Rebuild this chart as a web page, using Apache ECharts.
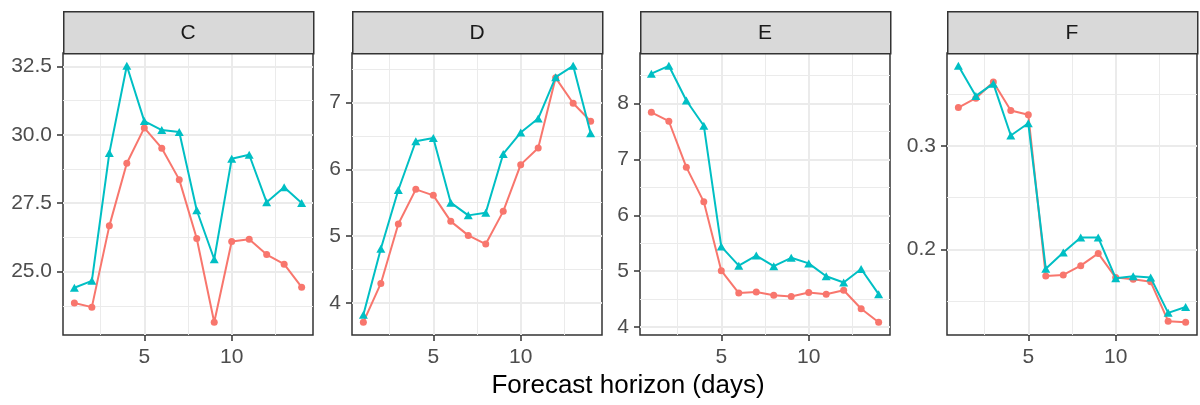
<!DOCTYPE html>
<html>
<head>
<meta charset="utf-8">
<script src="https://cdn.jsdelivr.net/npm/echarts@6/dist/echarts.min.js"></script>
<style>
html,body{margin:0;padding:0;background:#fff;}
#chart{width:1200px;height:405px;}
</style>
</head>
<body>
<div id="chart"></div>
<script>
// ---- data ----
const horizon = [1,2,3,4,5,6,7,8,9,10,11,12,13,14];
const panelNames = ['C','D','E','F'];

const redC  = [23.85,23.70,26.67,28.96,30.25,29.51,28.36,26.21,23.15,26.10,26.18,25.62,25.27,24.43];
const blueC = [24.41,24.66,29.33,32.52,30.50,30.17,30.10,27.24,25.45,29.12,29.27,27.53,28.08,27.51];
const redD  = [3.71,4.29,5.18,5.70,5.61,5.22,5.01,4.88,5.37,6.07,6.32,7.37,6.99,6.72];
const blueD = [3.82,4.81,5.69,6.42,6.47,5.50,5.31,5.35,6.23,6.55,6.76,7.38,7.55,6.54];
const redE  = [7.84,7.68,6.86,6.24,5.01,4.61,4.63,4.57,4.55,4.62,4.59,4.66,4.33,4.09];
const blueE = [8.53,8.67,8.05,7.60,5.44,5.10,5.28,5.09,5.24,5.14,4.91,4.80,5.04,4.59];
const redF  = [0.3369,0.3459,0.3615,0.3341,0.3299,0.1745,0.1755,0.1844,0.1962,0.1729,0.1713,0.1688,0.1309,0.1299];
const blueF = [0.3771,0.3481,0.3599,0.3099,0.3217,0.1815,0.1971,0.2115,0.2115,0.1723,0.1742,0.1729,0.1389,0.1446];

const xTicks = [5, 10];
const xMinor = [2.5, 7.5, 12.5];
const yTicksC = [25, 27.5, 30, 32.5];   const yMinorC = [23.75, 26.25, 28.75, 31.25];
const yTicksD = [4, 5, 6, 7];            const yMinorD = [4.5, 5.5, 6.5, 7.5];
const yTicksE = [4, 5, 6, 7, 8];         const yMinorE = [4.5, 5.5, 6.5, 7.5, 8.5];
const yTicksF = [0.2, 0.3];              const yMinorF = [0.15, 0.25, 0.35];
const yDigits = [1, 0, 0, 1];

const xTitle = 'Forecast horizon (days)';

// ---- layout / style ----
const FONT = "'Liberation Sans', Arial, Helvetica, sans-serif";
const RED = '#F8766D', TEAL = '#00BFC4';
const gridLefts = [63, 352, 640, 947];
const gridW = 250, gridTop = 53, gridBottomPx = 335;
const stripTop = 11;

const panels = [
  {red: redC, blue: blueC, ticks: yTicksC, minor: yMinorC},
  {red: redD, blue: blueD, ticks: yTicksD, minor: yMinorD},
  {red: redE, blue: blueE, ticks: yTicksE, minor: yMinorE},
  {red: redF, blue: blueF, ticks: yTicksF, minor: yMinorF}
];

const grids = [], xAxes = [], yAxes = [], series = [], graphics = [];

panels.forEach((p, i) => {
  const all = p.red.concat(p.blue);
  const lo = Math.min(...all), hi = Math.max(...all);
  const pad = (hi - lo) * 0.05;
  grids.push({
    left: gridLefts[i], top: gridTop, width: gridW, height: gridBottomPx - gridTop,
    show: true, backgroundColor: '#fff', borderColor: '#333333', borderWidth: 1.5, z: 0
  });
  xAxes.push({
    gridIndex: i, type: 'value', min: 0.35, max: 14.65,
    axisLine: {show: false},
    axisTick: {show: true, customValues: xTicks, length: 6, lineStyle: {color: '#333333', width: 1.5}},
    axisLabel: {customValues: xTicks, color: '#4D4D4D', fontSize: 21, fontFamily: FONT, margin: 12},
    splitLine: {show: false}
  });
  yAxes.push({
    gridIndex: i, type: 'value', min: lo - pad, max: hi + pad,
    axisLine: {show: false},
    axisTick: {show: true, customValues: p.ticks, length: 6, lineStyle: {color: '#333333', width: 1.5}},
    axisLabel: {customValues: p.ticks, color: '#4D4D4D', fontSize: 21, fontFamily: FONT, margin: 11,
      formatter: (v) => Number(v).toFixed(yDigits[i])},
    splitLine: {show: false}
  });
  // gridlines (minor then major) through the axes' scales
  const minorLines = p.minor.map(v => ({yAxis: v})).concat(xMinor.map(v => ({xAxis: v})));
  const majorLines = p.ticks.map(v => ({yAxis: v})).concat(xTicks.map(v => ({xAxis: v})));
  series.push({
    type: 'line', xAxisIndex: i, yAxisIndex: i, data: [], z: 1, silent: true,
    markLine: {silent: true, symbol: ['none','none'], z: 1, animation: false,
      label: {show: false}, emphasis: {disabled: true},
      lineStyle: {color: '#EBEBEB', width: 1, type: 'solid'}, data: minorLines}
  });
  series.push({
    type: 'line', xAxisIndex: i, yAxisIndex: i, data: [], z: 1, silent: true,
    markLine: {silent: true, symbol: ['none','none'], z: 1, animation: false,
      label: {show: false}, emphasis: {disabled: true},
      lineStyle: {color: '#EBEBEB', width: 2, type: 'solid'}, data: majorLines}
  });
  series.push({
    type: 'line', xAxisIndex: i, yAxisIndex: i, z: 3,
    data: horizon.map((h, k) => [h, p.red[k]]),
    symbol: 'circle', symbolSize: 7, showSymbol: true,
    lineStyle: {color: RED, width: 2}, itemStyle: {color: RED}, animation: false
  });
  series.push({
    type: 'line', xAxisIndex: i, yAxisIndex: i, z: 4,
    data: horizon.map((h, k) => [h, p.blue[k]]),
    symbol: 'triangle', symbolSize: [9, 8], showSymbol: true,
    lineStyle: {color: TEAL, width: 2}, itemStyle: {color: TEAL}, animation: false
  });
  // strip
  graphics.push({
    type: 'rect', left: gridLefts[i], top: stripTop,
    shape: {width: gridW, height: gridTop - stripTop},
    style: {fill: '#D9D9D9', stroke: '#333333', lineWidth: 1.5}, z: 10
  });
  graphics.push({
    type: 'text', x: gridLefts[i] + gridW / 2, y: (stripTop + gridTop) / 2 + 1,
    style: {text: panelNames[i], fill: '#1A1A1A', font: '21px ' + FONT, align: 'center', verticalAlign: 'middle'}, z: 11
  });
});

graphics.push({
  type: 'text', x: 628, y: 386,
  style: {text: xTitle, fill: '#000000', font: '26px ' + FONT, align: 'center', verticalAlign: 'middle'}, z: 11
});

const chart = echarts.init(document.getElementById('chart'), null, {renderer: 'canvas'});
chart.setOption({
  animation: false,
  backgroundColor: '#ffffff',
  grid: grids, xAxis: xAxes, yAxis: yAxes, series: series, graphic: graphics
});
</script>
</body>
</html>
